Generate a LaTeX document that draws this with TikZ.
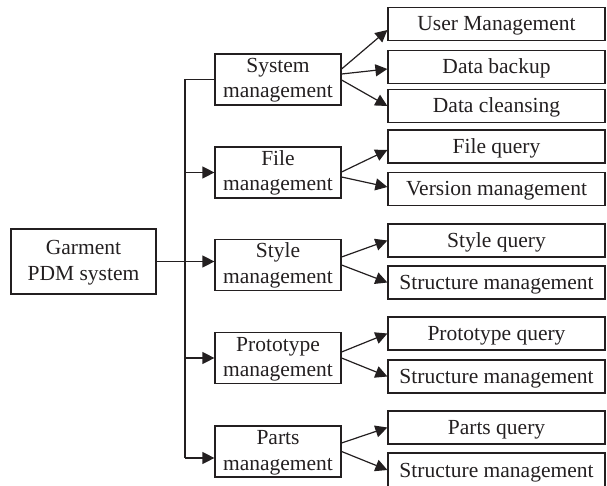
\documentclass[tikz,border=0pt]{standalone}
\usepackage{fontspec}
\setmainfont{Liberation Serif}
\usetikzlibrary{arrows.meta,calc}
\definecolor{ink}{HTML}{231F20}
\begin{document}
\begin{tikzpicture}[x=1pt,y=-1pt,
  box/.style={draw=ink,line width=1.2pt,inner sep=0pt,
    text=ink,font=\fontsize{21.5}{25.5}\selectfont},
  rootbox/.style={box,align=center,minimum width=145pt,minimum height=65pt,
    text height=51pt,text depth=14pt},
  midbox/.style={box,align=center,minimum width=126pt,minimum height=51pt,
    text height=44pt,text depth=7pt},
  leafbox/.style={box,minimum width=217pt,minimum height=33pt,
    text height=18pt,text depth=4pt},
  link/.style={draw=ink,line width=1.2pt},
  arr/.style={link,-{Triangle[length=12pt,width=12pt]}}]
\useasboundingbox (0,0) rectangle (607,486);

% root
\node[rootbox] (root) at (83.5,261.5) {Garment\\PDM system};

% second level
\node[midbox] (sys)   at (278,79.5)  {System\\management};
\node[midbox] (file)  at (278,172.5) {File\\management};
\node[midbox] (style) at (278,265)   {Style\\management};
\node[midbox] (proto) at (278,358)   {Prototype\\management};
\node[midbox] (parts) at (278,451.5) {Parts\\management};

% leaves
\node[leafbox] (user)    at (496.5,24)    {User Management};
\node[leafbox] (backup)  at (496.5,67)    {Data backup};
\node[leafbox] (clean)   at (496.5,106)   {Data cleansing};
\node[leafbox] (fquery)  at (496.5,146.5) {File query};
\node[leafbox] (version) at (496.5,189)   {Version management};
\node[leafbox] (squery)  at (496.5,240.5) {Style query};
\node[leafbox] (sstruct) at (496.5,282.5) {Structure management};
\node[leafbox] (pquery)  at (496.5,333.5) {Prototype query};
\node[leafbox] (pstruct) at (496.5,376.5) {Structure management};
\node[leafbox] (aquery)  at (496.5,427.5) {Parts query};
\node[leafbox,minimum height=34pt] (astruct) at (496.5,470) {Structure management};

% trunk
\coordinate (ttop) at (185,79.5);
\coordinate (tbot) at (185,458);
\draw[link] (sys.west) -- (ttop) -- (tbot);
\draw[arr] (root.east) -- (root.east -| style.west);
\draw[arr] (ttop |- file.west) -- (file.west);
\draw[arr] (ttop |- proto.west) -- (proto.west);
\draw[arr] (tbot) -- (tbot -| parts.west);

% branches to leaves
\draw[arr] ($(sys.east)+(0,-10.5)$) -- ($(user.west)+(0,6)$);
\draw[arr] ($(sys.east)+(0,-5.5)$) -- ($(backup.west)+(0,2)$);
\draw[arr] ($(sys.east)+(0,0.5)$) -- (clean.west);
\draw[arr] ($(file.east)+(0,-0.5)$) -- ($(fquery.west)+(0,3.5)$);
\draw[arr] ($(file.east)+(0,4.5)$) -- ($(version.west)+(0,-2)$);
\draw[arr] ($(style.east)+(0,-8)$) -- (squery.west);
\draw[arr] (style.east) -- (sstruct.west);
\draw[arr] ($(proto.east)+(0,-6)$) -- (pquery.west);
\draw[arr] (proto.east) -- (pstruct.west);
\draw[arr] ($(parts.east)+(0,-8.5)$) -- (aquery.west);
\draw[arr] (parts.east) -- (astruct.west);
\end{tikzpicture}
\end{document}
